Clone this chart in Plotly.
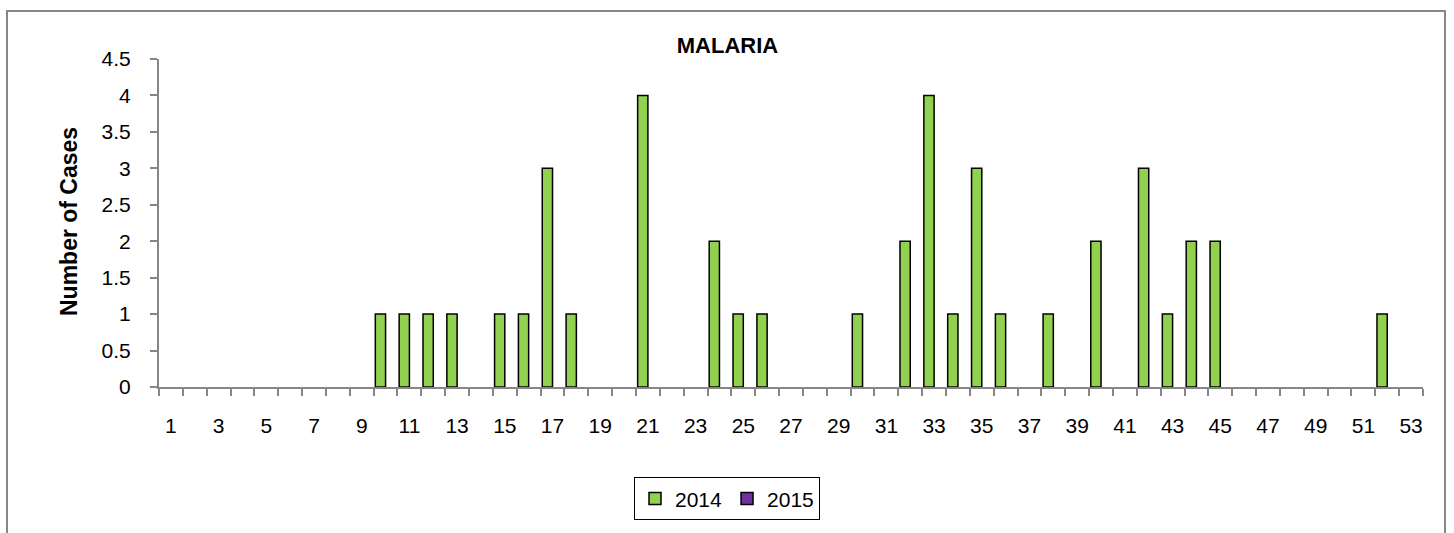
import plotly.graph_objects as go

weeks = list(range(1, 54))
cases_2014_map = {10: 1, 11: 1, 12: 1, 13: 1, 15: 1, 16: 1, 17: 3, 18: 1, 21: 4,
                  24: 2, 25: 1, 26: 1, 30: 1, 32: 2, 33: 4, 34: 1, 35: 3, 36: 1,
                  38: 1, 40: 2, 42: 3, 43: 1, 44: 2, 45: 2, 52: 1}
cases_2014 = [cases_2014_map.get(w, None) for w in weeks]
cases_2015 = [None for w in weeks]
tick_labels = [str(w) for w in range(1, 54, 2)]
tick_positions = list(range(1, 54, 2))

W, H = 1454, 533
L, R, T, B = 159, 31, 59, 140
pw = W - L - R
ph = H - T - B

FONT = "Liberation Sans, Arial, sans-serif"
GRAY = "#868686"

fig = go.Figure()
fig.add_trace(go.Bar(x=weeks, y=cases_2014, name="2014",
                     marker=dict(color="#92D050", line=dict(color="black", width=1.5)),
                     offsetgroup="a"))
fig.add_trace(go.Bar(x=weeks, y=cases_2015, name="2015",
                     marker=dict(color="#7030A0", line=dict(color="black", width=1.5)),
                     offsetgroup="b"))

fig.update_layout(
    width=W, height=H,
    margin=dict(l=L, r=R, t=T, b=B),
    paper_bgcolor="white", plot_bgcolor="white",
    barmode="group", bargap=0.14, bargroupgap=0,
    font=dict(family=FONT, size=21, color="black"),
    title=dict(text="<b>MALARIA</b>", x=727.5 / W, xanchor="center",
               y=1 - 45.5 / H, yanchor="middle", font=dict(size=22, family=FONT)),
    showlegend=True,
    legend=dict(orientation="h", x=(727 - L) / pw, xanchor="center",
                y=(H - B - 507) / ph, yanchor="middle",
                bordercolor="black", borderwidth=1, bgcolor="white",
                font=dict(size=21, family=FONT), itemwidth=30,
                traceorder="normal"),
    xaxis=dict(range=[0.5, 53.5], tickmode="array", tickvals=tick_positions,
               ticktext=tick_labels, ticks="", showgrid=False, zeroline=False,
               showline=True, linecolor=GRAY, linewidth=2,
               ticklabelstandoff=19,
               tickfont=dict(size=21, family=FONT),
               minor=dict(tick0=0.5, dtick=1, ticks="outside", ticklen=7,
                          tickcolor=GRAY, tickwidth=2, showgrid=False)),
    yaxis=dict(range=[0, 4.5], tickmode="linear", tick0=0, dtick=0.5,
               ticks="outside", ticklen=7, tickcolor=GRAY, tickwidth=2,
               showgrid=False, zeroline=False, showline=True,
               linecolor=GRAY, linewidth=2, ticklabelstandoff=15,
               tickfont=dict(size=21, family=FONT)),
)

fig.add_annotation(text="<b>Number of Cases</b>", xref="paper", yref="paper",
                   x=(69 - L) / pw, y=(H - B - 225) / ph, textangle=-90,
                   showarrow=False, font=dict(size=23, family=FONT),
                   xanchor="center", yanchor="middle")

fig.add_shape(type="rect", xref="paper", yref="paper",
              x0=(7 - L) / pw, x1=(1445 - L) / pw,
              y0=(H - B - 560) / ph, y1=(H - B - 10) / ph,
              line=dict(color=GRAY, width=2), fillcolor="rgba(0,0,0,0)",
              layer="below")

fig.write_html("out.html", config={"displayModeBar": False},
               post_script="document.body.style.margin='0px';")
